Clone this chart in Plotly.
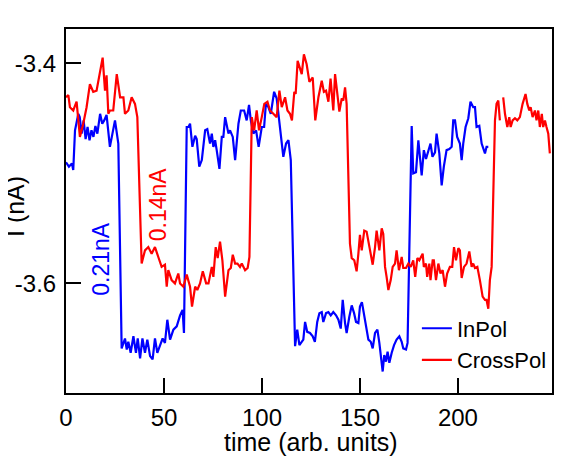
import plotly.graph_objects as go

# time axis (arb. units) and current (nA)
t_inpol = [0, 1.5, 3, 3.7, 4.6, 6.3, 7, 8, 9, 10, 11, 12, 13, 14, 15, 16, 17.4, 18.5, 19.5, 20.7,
           22.4, 24, 25, 26.7, 28.4, 30.1, 31, 31.8, 33, 34.4, 35.7, 36.6, 37.8, 39, 40.3, 41.5,
           42.9, 44.2, 45.4, 46.6, 47.9, 49.3, 50.5, 51.7, 53.1, 54.8, 56.5, 58.2, 59.5, 60.2,
           61.6, 62.5, 63.3, 64.5, 65.9, 66.7, 68, 69.3, 71, 72.1, 73.5, 74.4, 75.2, 76.1, 76.9,
           78.3, 79.5, 80.3, 81.2, 82.9, 83.7, 85.1, 86.3, 88, 89.2, 90.9, 92.2, 93.4, 94.3, 95.6,
           97, 98.3, 99.9, 101.1, 102, 103.3, 104.5, 106.2, 107.5, 109.2, 110.9, 112.3, 113.5,
           114.7, 116.9, 118, 119.1, 121.1, 122, 123.1, 124.5, 125.9, 127, 128.2, 129.3, 130.5,
           131.3, 132.7, 133.9, 135.1, 136.4, 137.8, 139, 140.2, 141.2, 142.4, 143.2, 144.6,
           145.8, 147, 148, 149.2, 150, 151, 152.1, 153.1, 154.3, 155.5, 156.5, 157.7, 158.9,
           159.9, 160.7, 161.6, 162.4, 163.3, 164.1, 165, 166.2, 167.4, 168.7, 170.1, 171.3,
           172.1, 173.5, 174.3, 176.4, 177.2, 178.6, 179.8, 181.5, 182.6, 183.7, 184.9, 186, 187,
           188.3, 189.1, 190.5, 191.7, 192.8, 194.2, 195.6, 196.8, 197.6, 198.5, 199.6, 201,
           201.9, 202.7, 203.9, 205.3, 206.4, 207.8, 208.7, 209.5, 210.9, 212.1, 213.8, 214.6,
           215.5]
i_inpol = [-3.490, -3.494, -3.491, -3.497, -3.461, -3.446, -3.449, -3.464, -3.452, -3.469,
           -3.458, -3.470, -3.461, -3.467, -3.457, -3.464, -3.446, -3.455, -3.452, -3.447,
           -3.476, -3.461, -3.452, -3.473, -3.659, -3.650, -3.660, -3.653, -3.663, -3.648,
           -3.663, -3.650, -3.668, -3.650, -3.663, -3.651, -3.666, -3.669, -3.650, -3.663,
           -3.656, -3.650, -3.654, -3.633, -3.651, -3.642, -3.639, -3.629, -3.624, -3.645,
           -3.458, -3.458, -3.455, -3.476, -3.466, -3.469, -3.494, -3.488, -3.461, -3.460,
           -3.473, -3.464, -3.476, -3.470, -3.479, -3.496, -3.467, -3.467, -3.449, -3.464,
           -3.461, -3.467, -3.488, -3.455, -3.443, -3.443, -3.452, -3.438, -3.452, -3.464,
           -3.461, -3.476, -3.458, -3.458, -3.437, -3.440, -3.446, -3.426, -3.432, -3.461,
           -3.485, -3.473, -3.470, -3.488, -3.657, -3.642, -3.656, -3.651, -3.635, -3.644,
           -3.645, -3.648, -3.653, -3.635, -3.627, -3.626, -3.635, -3.627, -3.626, -3.629,
           -3.626, -3.629, -3.633, -3.641, -3.615, -3.636, -3.645, -3.630, -3.620, -3.627,
           -3.635, -3.636, -3.621, -3.617, -3.629, -3.638, -3.651, -3.653, -3.659, -3.645,
           -3.642, -3.654, -3.666, -3.680, -3.665, -3.671, -3.662, -3.672, -3.663, -3.656,
           -3.651, -3.648, -3.653, -3.659, -3.660, -3.654, -3.457, -3.500, -3.499, -3.470,
           -3.502, -3.479, -3.487, -3.479, -3.473, -3.485, -3.481, -3.464, -3.482, -3.511,
           -3.494, -3.479, -3.478, -3.476, -3.452, -3.452, -3.467, -3.473, -3.488, -3.473,
           -3.458, -3.450, -3.435, -3.440, -3.440, -3.458, -3.457, -3.473, -3.482, -3.476,
           -3.476]

t_crosspol = [0, 1.2, 2, 3.7, 5.4, 7.1, 8.8, 10.5, 12.2, 13.9, 15.6, 17.3, 18.7, 19.9, 20.7,
              21.6, 22.4, 24.1, 25.9, 27.6, 29.3, 30.1, 31.8, 33.5, 35.2, 36.4, 38.6, 40.3, 42,
              43.7, 45.4, 47.1, 48.8, 50.5, 51.4, 52.2, 53.9, 55.6, 57.3, 58.2, 59.9, 61.6, 63.3,
              64.3, 65.9, 67, 68.4, 69.8, 71.5, 72.7, 74.4, 75.2, 76.4, 77.4, 78.6, 79.8, 81.2,
              82.9, 84.1, 85.1, 86.3, 87.5, 88.8, 89.7, 91.4, 92.7, 93.6, 94.8, 96, 97.3, 98.5,
              99.9, 101.2, 102.8, 104.1, 105.8, 107.5, 108.9, 110.1, 111.8, 113, 114.3, 115.3,
              116.5, 117.2, 118.2, 119.4, 120.3, 121.4, 122.8, 124.2, 125.9, 127.2, 128.8, 130.5,
              131.6, 132.7, 133.9, 135, 136.4, 137.3, 138.4, 139.5, 140.7, 141.5, 142.4, 143.2,
              144.9, 145.8, 147.1, 148.3, 149.2, 150, 150.9, 152.2, 153.4, 154.8, 156.5, 157.7,
              158.5, 159.9, 161.1, 161.9, 162.8, 163.6, 164.5, 165.7, 166.7, 167.9, 168.7, 169.9,
              171.3, 172.1, 173.5, 174.7, 175.9, 177.2, 178.2, 179.3, 180.3, 182, 182.6, 183.7,
              184.3, 185.4, 186, 187.1, 187.7, 188.8, 190, 191.1, 192.2, 193.4, 194.5, 195.9,
              197.1, 198, 199, 200.2, 201, 201.9, 203.1, 204.4, 205.8, 207, 207.8, 208.7, 209.9,
              211.2, 212.6, 213.8, 214.6, 215.5, 216.3, 217.2, 218.9, 219.7, 220.6, 221.4, 222.2,
              223.1, 224, 225.2, 226.2, 226.9, 227.9, 229.1, 230.3, 231.6, 233, 234.5, 235.4,
              236.4, 237.1, 238.1, 239.3, 240.1, 241, 241.8, 242.8, 243.5, 244.4, 245.2, 246.1,
              246.9]
i_crosspol = [-3.431, -3.429, -3.440, -3.443, -3.435, -3.467, -3.455, -3.440, -3.419, -3.426,
              -3.425, -3.407, -3.395, -3.425, -3.411, -3.446, -3.443, -3.443, -3.410, -3.431,
              -3.431, -3.446, -3.443, -3.431, -3.437, -3.449, -3.582, -3.570, -3.567, -3.573,
              -3.567, -3.576, -3.585, -3.583, -3.603, -3.588, -3.597, -3.600, -3.591, -3.600,
              -3.603, -3.592, -3.603, -3.621, -3.603, -3.606, -3.600, -3.589, -3.600, -3.600,
              -3.585, -3.594, -3.567, -3.577, -3.562, -3.579, -3.612, -3.588, -3.586, -3.574,
              -3.582, -3.582, -3.585, -3.582, -3.588, -3.586, -3.576, -3.449, -3.461, -3.443,
              -3.461, -3.449, -3.437, -3.435, -3.443, -3.446, -3.449, -3.425, -3.440, -3.431,
              -3.443, -3.446, -3.452, -3.426, -3.428, -3.398, -3.404, -3.410, -3.392, -3.401,
              -3.417, -3.413, -3.452, -3.431, -3.416, -3.426, -3.425, -3.435, -3.414, -3.443,
              -3.410, -3.428, -3.444, -3.432, -3.434, -3.422, -3.437, -3.564, -3.577, -3.579,
              -3.589, -3.573, -3.556, -3.570, -3.552, -3.553, -3.567, -3.583, -3.567, -3.552,
              -3.570, -3.550, -3.555, -3.585, -3.594, -3.606, -3.597, -3.585, -3.582, -3.570,
              -3.588, -3.576, -3.586, -3.586, -3.582, -3.585, -3.579, -3.594, -3.577, -3.579,
              -3.573, -3.585, -3.582, -3.594, -3.582, -3.597, -3.579, -3.579, -3.597, -3.582,
              -3.591, -3.588, -3.603, -3.591, -3.585, -3.585, -3.567, -3.579, -3.568, -3.570,
              -3.595, -3.585, -3.582, -3.571, -3.585, -3.582, -3.586, -3.585, -3.597, -3.612,
              -3.615, -3.615, -3.623, -3.597, -3.585, -3.452, -3.437, -3.434, -3.452, None,
              -3.431, -3.446, -3.458, -3.449, -3.458, -3.452, -3.450, -3.452, -3.449, -3.437,
              -3.428, -3.437, -3.443, -3.440, -3.449, -3.443, -3.452, -3.443, -3.458, -3.446,
              -3.458, -3.452, -3.458, -3.464, -3.482]

x_ticks = [0, 50, 100, 150, 200]
y_ticks = [-3.6, -3.4]
y_ticklabels = ["-3.6", "-3.4"]

FONT = "Liberation Sans, Arial, Helvetica, sans-serif"

fig = go.Figure()
fig.add_trace(go.Scatter(x=t_inpol, y=i_inpol, mode="lines", name="InPol",
                         line=dict(color="#0000ff", width=2.2)))
fig.add_trace(go.Scatter(x=t_crosspol, y=i_crosspol, mode="lines", name="CrossPol",
                         line=dict(color="#ff0000", width=2.2), connectgaps=False))

# step sizes written next to the transitions
fig.add_annotation(x=17.9, y=-3.5775, text="0.21nA", textangle=-90, showarrow=False,
                   font=dict(family=FONT, size=23, color="#0000ff"))
fig.add_annotation(x=46.7, y=-3.5286, text="0.14nA", textangle=-90, showarrow=False,
                   font=dict(family=FONT, size=23, color="#ff0000"))

# axis titles placed by hand so they sit where the reference has them
fig.add_annotation(x=0.504, y=0, xref="paper", yref="paper", yanchor="middle",
                   yshift=-49, text="time (arb. units)", showarrow=False,
                   font=dict(family=FONT, size=25, color="black"))
fig.add_annotation(x=0, y=0.511, xref="paper", yref="paper", xanchor="center",
                   xshift=-51, text="I (nA)", textangle=-90, showarrow=False,
                   font=dict(family=FONT, size=25, color="black"))

axis_style = dict(showline=True, linecolor="black", linewidth=2, mirror=True,
                  ticks="inside", ticklen=15, tickwidth=2, tickcolor="black",
                  showgrid=False, zeroline=False, automargin=False,
                  tickfont=dict(family=FONT, size=24, color="black"))

fig.update_layout(
    width=581, height=460,
    margin=dict(l=58, r=37, t=21, b=75),
    paper_bgcolor="white", plot_bgcolor="white",
    font=dict(family=FONT, color="black"),
    xaxis=dict(range=[0, 248], tickvals=x_ticks, ticklabelstandoff=2, **axis_style),
    yaxis=dict(range=[-3.6995, -3.369], tickvals=y_ticks, ticktext=y_ticklabels,
               ticklabelstandoff=3, **axis_style),
    legend=dict(x=0.722, y=0.235, xanchor="left", yanchor="top",
                font=dict(family=FONT, size=22, color="black"),
                bgcolor="rgba(0,0,0,0)", borderwidth=0, tracegroupgap=0),
    showlegend=True,
)

fig.write_html("out.html")
